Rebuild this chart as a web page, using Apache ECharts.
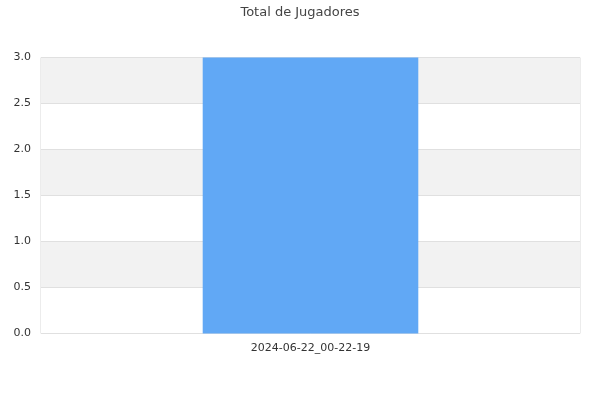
<!DOCTYPE html>
<html>
<head>
<meta charset="utf-8">
<script src="https://cdn.jsdelivr.net/npm/echarts@6/dist/echarts.min.js"></script>
<style>
  html, body { margin: 0; padding: 0; background: #fff; }
  #chart { width: 600px; height: 400px; }
</style>
</head>
<body>
<div id="chart"></div>
<script>
// datos
var categorias = ['2024-06-22_00-22-19'];
var jugadores = [3];
var ticksY = [0, 0.5, 1.0, 1.5, 2.0, 2.5, 3.0];

var myChart = echarts.init(document.getElementById('chart'));
var option = {
  animation: false,
  textStyle: { fontFamily: 'DejaVu Sans' },
  title: {
    text: 'Total de Jugadores',
    left: 'center',
    top: 1,
    textStyle: { fontSize: 13, fontWeight: 'normal', color: '#444', fontFamily: 'DejaVu Sans' }
  },
  grid: {
    left: 41, right: 20, top: 57.5, bottom: 66.5,
    show: true, borderColor: '#d9d9d9', borderWidth: 1, backgroundColor: 'transparent'
  },
  xAxis: {
    type: 'category',
    data: categorias,
    axisLine: { show: false },
    axisTick: { show: false },
    axisLabel: { color: '#333', fontSize: 11, margin: 9 }
  },
  yAxis: {
    type: 'value',
    min: ticksY[0],
    max: ticksY[ticksY.length - 1],
    interval: 0.5,
    axisLine: { show: false },
    axisTick: { show: false },
    axisLabel: { color: '#333', fontSize: 11, margin: 10, formatter: function (v) { return v.toFixed(1); } },
    splitLine: { show: true, lineStyle: { color: '#e0e0e0' } },
    splitArea: { show: true, areaStyle: { color: ['#ffffff', '#f2f2f2'] } }
  },
  series: [{
    type: 'bar',
    data: jugadores,
    barWidth: '40%',
    itemStyle: { color: '#61a8f5' }
  }]
};
myChart.setOption(option);
</script>
</body>
</html>
